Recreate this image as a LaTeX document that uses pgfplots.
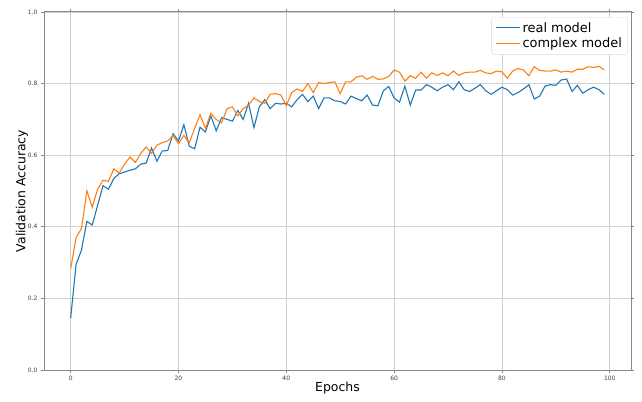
\documentclass[border=0pt]{standalone}
\usepackage{fontspec}
\setmainfont{DejaVu Sans}
\usepackage{pgfplots}
\pgfplotsset{compat=1.18}
\definecolor{c0}{HTML}{1F77B4}
\definecolor{c1}{HTML}{FF7F0E}
\definecolor{spine}{HTML}{888888}
\definecolor{gridc}{HTML}{D0D0D0}
\begin{document}
\begin{tikzpicture}
\path[use as bounding box] (-44bp,-32bp) rectangle (598bp,370bp);
\begin{axis}[
  scale only axis,
  width=587bp, height=358bp,
  xmin=-4.95, xmax=103.95, ymin=0, ymax=1,
  xtick={0,20,40,60,80,100},
  ytick={0,0.2,0.4,0.6,0.8,1.0},
  yticklabel style={/pgf/number format/.cd,fixed,fixed zerofill,precision=1},
  /pgf/number format/assume math mode=true,
  ticklabel style={font=\fontsize{6}{7}\selectfont, text=black!75},
  tick align=outside,
  major tick length=3bp,
  tick style={spine, line width=0.6pt},
  axis line style={spine, line width=1pt},
  grid=major,
  major grid style={gridc, line width=0.8pt},
  xlabel={Epochs},
  ylabel={Validation Accuracy},
  label style={font=\fontsize{12.5}{14}\selectfont},
  xlabel style={at={(axis description cs:0.5,-0.05)}, anchor=center},
  ylabel style={at={(axis description cs:-0.0375,0.5)}, anchor=center, rotate=0},
  legend style={at={(axis description cs:0.995,0.986)}, anchor=north east,
    draw=black!15, rounded corners=2pt, font=\fontsize{13}{15}\selectfont,
    row sep=0.5pt, inner xsep=4pt, inner ysep=3pt},
  legend cell align=left,
  legend image post style={xscale=1.4},
]
\addplot[c0, line width=1.1pt] coordinates {
(0,0.145)(1,0.295)(2,0.335)(3,0.415)(4,0.405)(5,0.46)(6,0.515)(7,0.505)(8,0.535)(9,0.548)
(10,0.553)(11,0.558)(12,0.562)(13,0.575)(14,0.578)(15,0.62)(16,0.583)(17,0.612)(18,0.613)(19,0.66)
(20,0.64)(21,0.685)(22,0.625)(23,0.618)(24,0.678)(25,0.665)(26,0.71)(27,0.668)(28,0.705)(29,0.70)
(30,0.695)(31,0.725)(32,0.70)(33,0.745)(34,0.677)(35,0.735)(36,0.755)(37,0.73)(38,0.745)(39,0.743)
(40,0.745)(41,0.735)(42,0.755)(43,0.77)(44,0.75)(45,0.765)(46,0.73)(47,0.76)(48,0.76)(49,0.752)
(50,0.75)(51,0.743)(52,0.765)(53,0.758)(54,0.752)(55,0.768)(56,0.74)(57,0.738)(58,0.78)(59,0.792)
(60,0.76)(61,0.748)(62,0.793)(63,0.74)(64,0.782)(65,0.782)(66,0.797)(67,0.79)(68,0.78)(69,0.79)
(70,0.797)(71,0.783)(72,0.805)(73,0.783)(74,0.778)(75,0.787)(76,0.797)(77,0.78)(78,0.77)(79,0.78)
(80,0.79)(81,0.783)(82,0.768)(83,0.775)(84,0.785)(85,0.797)(86,0.757)(87,0.765)(88,0.793)(89,0.797)
(90,0.795)(91,0.81)(92,0.813)(93,0.778)(94,0.795)(95,0.773)(96,0.783)(97,0.79)(98,0.783)(99,0.77)
};
\addlegendentry{real model}
\addplot[c1, line width=1.1pt] coordinates {
(0,0.283)(1,0.37)(2,0.395)(3,0.50)(4,0.455)(5,0.505)(6,0.53)(7,0.527)(8,0.562)(9,0.55)
(10,0.575)(11,0.595)(12,0.58)(13,0.605)(14,0.623)(15,0.605)(16,0.628)(17,0.635)(18,0.64)(19,0.655)
(20,0.632)(21,0.655)(22,0.635)(23,0.675)(24,0.713)(25,0.675)(26,0.717)(27,0.70)(28,0.69)(29,0.73)
(30,0.735)(31,0.71)(32,0.73)(33,0.74)(34,0.76)(35,0.75)(36,0.745)(37,0.77)(38,0.772)(39,0.768)
(40,0.738)(41,0.775)(42,0.785)(43,0.778)(44,0.80)(45,0.775)(46,0.803)(47,0.80)(48,0.803)(49,0.805)
(50,0.772)(51,0.805)(52,0.805)(53,0.818)(54,0.822)(55,0.812)(56,0.82)(57,0.812)(58,0.813)(59,0.82)
(60,0.838)(61,0.832)(62,0.807)(63,0.822)(64,0.815)(65,0.832)(66,0.815)(67,0.83)(68,0.823)(69,0.83)
(70,0.822)(71,0.835)(72,0.823)(73,0.83)(74,0.832)(75,0.832)(76,0.837)(77,0.83)(78,0.828)(79,0.835)
(80,0.833)(81,0.815)(82,0.835)(83,0.842)(84,0.838)(85,0.822)(86,0.847)(87,0.837)(88,0.835)(89,0.835)
(90,0.838)(91,0.832)(92,0.835)(93,0.832)(94,0.84)(95,0.84)(96,0.847)(97,0.845)(98,0.848)(99,0.838)
};
\addlegendentry{complex model}
\end{axis}
\end{tikzpicture}
\end{document}
